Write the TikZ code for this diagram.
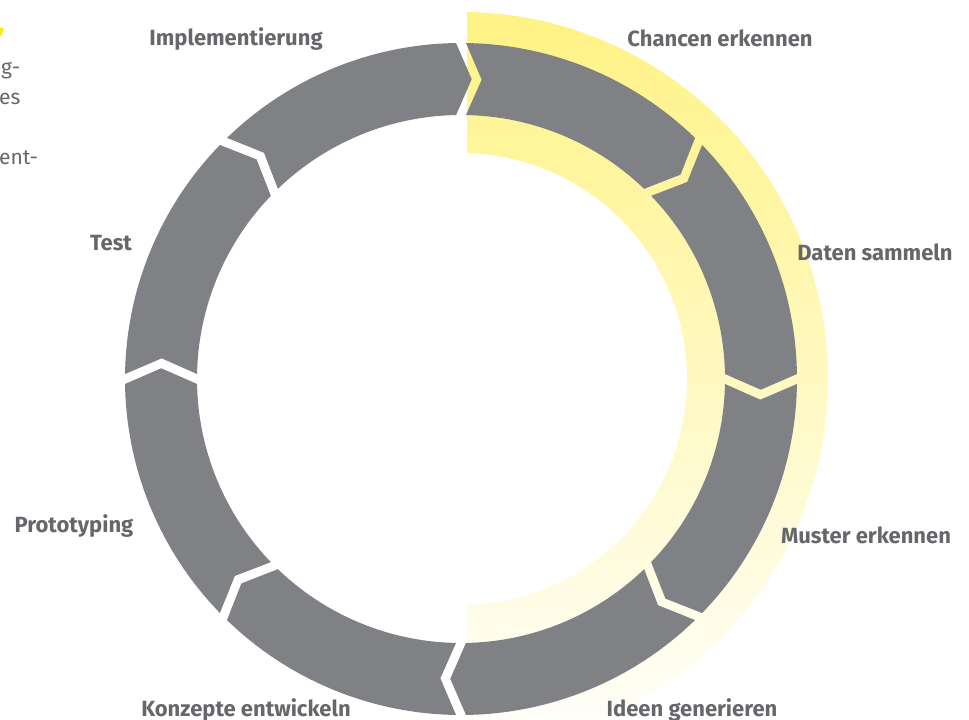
\documentclass[tikz,border=0pt]{standalone}
\usepackage{fontspec}
\setmainfont{Fira Sans}

\definecolor{ringgray}{RGB}{128,129,133}
\definecolor{textgray}{RGB}{102,103,107}
\definecolor{sunyellow}{RGB}{255,242,128}
\definecolor{markyellow}{RGB}{255,236,0}

\begin{document}
\begin{tikzpicture}[
        x = 1pt, y = 1pt,
        ring/.style = {fill = ringgray},
        phase/.style = {text = textgray, font = \fontsize{22}{26}\selectfont\bfseries, anchor = base, inner sep = 0pt},
        aside/.style = {text = textgray, font = \fontsize{21}{25}\selectfont, anchor = base west, inner sep = 0pt}
    ]
    \useasboundingbox (0,0) rectangle (969,720);

    % yellow half ring behind the first phases
    \begin{scope}
        \clip (467,0) rectangle (969,720);
        \shade[top color = sunyellow, bottom color = white]
            (461,341) ++(100:367) arc[start angle = 100, end angle = -100, radius = 367]
            -- ++(0,0) coordinate (ybot)
            (461,341) ++(-100:226) arc[start angle = -100, end angle = 100, radius = 226]
            -- cycle;
    \end{scope}

    % eight arrow segments, clockwise from the top
    \begin{scope}[shift = {(461,341)}]
        \foreach \a in {90, 45, ..., -225} {
            \pgfmathsetmacro\b{\a - 45}
            \fill[ring] ({\a-0.85}:336) arc[start angle = \a-0.85, end angle = \b+0.85, radius = 336]
                -- ({\b-3+0.95}:300) -- ({\b+1.08}:264)
                arc[start angle = \b+1.08, end angle = \a-1.08, radius = 264]
                -- ({\a-3-0.95}:300) -- cycle;
        }
    \end{scope}

    \node[phase] (chancen) at (720,673) {Chancen erkennen};
    \node[phase] (daten) at (875,459) {Daten sammeln};
    \node[phase] (muster) at (866,176) {Muster erkennen};
    \node[phase] (ideen) at (692,3) {Ideen generieren};
    \node[phase] (konzepte) at (246,3) {Konzepte entwickeln};
    \node[phase] (proto) at (74,187) {Prototyping};
    \node[phase] (test) at (111,469) {Test};
    \node[phase] (impl) at (236,674) {Implementierung};

    % bits of the text column on the left
    \fill[markyellow] (0,692) -- (4,692) -- (1,684) -- (0,684) -- cycle;
    \node[aside] (line1) at (1,645) {g-};
    \node[aside] (line2) at (-1,615) {es};
    \node[aside] (line3) at (-1,555) {ent-};
\end{tikzpicture}
\end{document}
